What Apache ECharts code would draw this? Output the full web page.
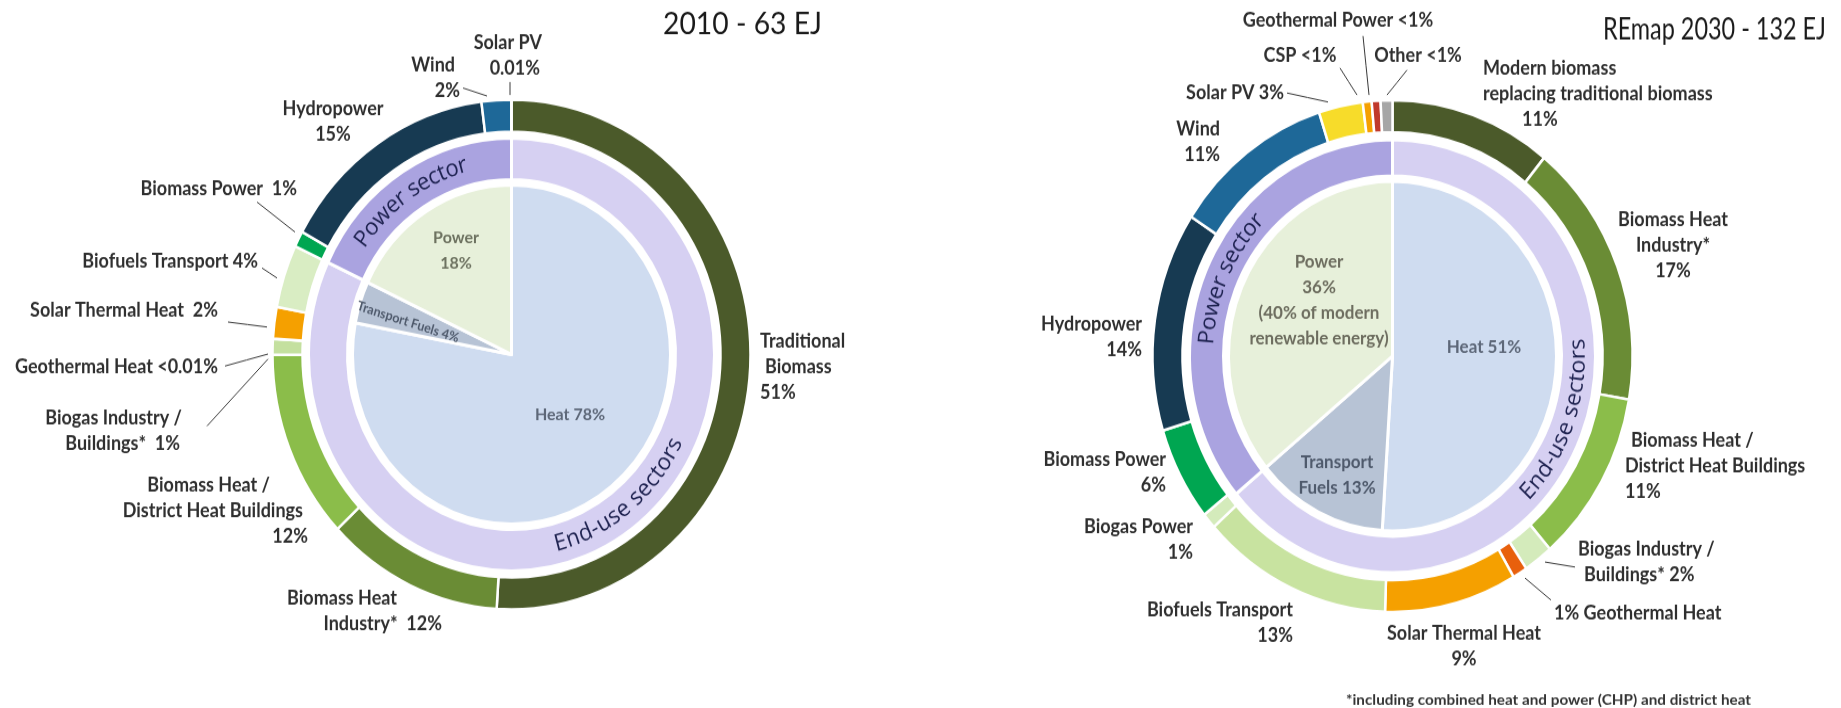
<!DOCTYPE html>
<html><head><meta charset="utf-8">
<script src="https://cdn.jsdelivr.net/npm/echarts@6/dist/echarts.min.js"></script>
<style>
html,body{margin:0;padding:0;background:#fff;overflow:hidden;}
#wrap{width:1841px;height:708px;overflow:hidden;}
#chart{width:1841px;height:664px;transform:scaleY(1.066265);transform-origin:0 0;}
</style></head><body><div id="wrap"><div id="chart"></div></div>
<script>
// ---------------- DATA ----------------
// 2010 - outer ring (clockwise from 12 o'clock)
const leftOuterLabels = [
  'Traditional\nBiomass\n51%',
  'Biomass Heat\nIndustry*  12%',
  'Biomass Heat /\nDistrict Heat Buildings\n12%',
  'Biogas Industry /\nBuildings*  1%',
  'Geothermal Heat <0.01%',
  'Solar Thermal Heat  2%',
  'Biofuels Transport 4%',
  'Biomass Power  1%',
  'Hydropower\n15%',
  'Wind\n2%',
  'Solar PV\n0.01%'
];
const leftOuterValues = [51, 12, 12, 1, 0.01, 2, 4, 1, 15, 2, 0.01];
const leftMiddleNames = ['End-use sectors', 'Power sector'];
const leftMiddleValues = [82, 18];
const leftInnerLabels = ['Heat 78%', 'Transport Fuels 4%', 'Power\n18%'];
const leftInnerValues = [78, 4, 18];

// REmap 2030 - outer ring (clockwise from 12 o'clock)
const rightOuterLabels = [
  'Modern biomass\nreplacing traditional biomass\n11%',
  'Biomass Heat\nIndustry*\n17%',
  'Biomass Heat /\nDistrict Heat Buildings\n11%',
  'Biogas Industry /\nBuildings* 2%',
  '1% Geothermal Heat',
  'Solar Thermal Heat\n9%',
  'Biofuels Transport\n13%',
  'Biogas Power\n1%',
  'Biomass Power\n6%',
  'Hydropower\n14%',
  'Wind\n11%',
  'Solar PV 3%',
  'CSP <1%',
  'Geothermal Power <1%',
  'Other <1%'
];
const rightOuterValues = [11, 17, 11, 2, 1, 9, 13, 1, 6, 14, 11, 3, 0.6, 0.6, 0.8];
const rightMiddleNames = ['End-use sectors', 'Power sector'];
const rightMiddleValues = [64, 36];
const rightInnerLabels = ['Heat 51%', 'Transport\nFuels 13%', 'Power\n36%\n(40% of modern\nrenewable energy)'];
const rightInnerValues = [51, 13, 36];

const titles = ['2010 - 63 EJ', 'REmap 2030 - 132 EJ'];
const footnote = '*including combined heat and power (CHP) and district heat';

// ---------------- STYLE / LAYOUT ----------------
const SY = 708 / 664;
const Y = v => v / SY;
const FONT = 'Lato, "Open Sans", sans-serif';

const leftOuterColors = ['#4b5a2a','#6a8c35','#8bbd4a','#c4e09f','#f2a7a7','#f5a000','#d9edc3','#00a651','#173a52','#1e6898','#f5d922'];
const rightOuterColors = ['#4b5a2a','#6a8c35','#8bbd4a','#d4ebbb','#e8600c','#f5a000','#c8e3a0','#d4ebbb','#00a651','#173a52','#1e6898','#f7dc2a','#f5a000','#c0392b','#a6a6a6'];
const middleColors = ['#d6d0f2', '#aaa3e0'];
const innerColors = ['#cfdcf0', '#b7c3d5', '#e7f0da'];

const leftOuterLayout = [
  {x:760, y:367, align:'left', pads:[0,5,0]},
  {x:442, y:611, align:'right', pads:[45,0]},
  {x:308, y:510.5, align:'right', pads:[38,5,0]},
  {x:182, y:431, align:'right', pads:[0,2], line:[[207,426],[268,359]]},
  {x:218, y:367, align:'right', line:[[225,366],[268,354]]},
  {x:218, y:310, align:'right', line:[[228,322],[267,327]]},
  {x:258, y:261, align:'right', line:[[262,268],[277,278]]},
  {x:297, y:189, align:'right', line:[[257,202],[295,232]]},
  {x:333, y:122, align:'center'},
  {x:460, y:78, align:'right', pads:[5,0], line:[[463,88],[487,96]]},
  {x:542, y:56, align:'right', pads:[0,2], line:[[510,82],[510,95]]}
];
const rightOuterLayout = [
  {x:1483, y:94.5, align:'left', pads:[0,0,39]},
  {x:1673, y:245, align:'center'},
  {x:1625, y:466, align:'left', pads:[6,0,0]},
  {x:1578, y:562.5, align:'left', pads:[0,6], line:[[1545,562],[1575,567]]},
  {x:1554, y:613, align:'left', line:[[1525,578],[1551,600]]},
  {x:1464, y:646.5, align:'center'},
  {x:1293, y:623, align:'right'},
  {x:1193, y:539.5, align:'right'},
  {x:1166, y:473, align:'right'},
  {x:1142, y:337.5, align:'right'},
  {x:1220, y:141.5, align:'right'},
  {x:1284, y:93, align:'right', line:[[1287,93],[1328,102]]},
  {x:1300, y:56, align:'center', line:[[1340,68],[1357,95]]},
  {x:1338, y:20, align:'center', line:[[1363,36],[1369,95]]},
  {x:1418, y:56, align:'center', line:[[1407,70],[1387,95]]}
];
const leftInnerLayout = [
  {x:570, y:415, align:'center', color:'#5d6778', size:16},
  {x:408, y:322, align:'center', color:'#4f5a6c', size:12.5, rotate:-17},
  {x:456, y:250, align:'center', color:'#6d7260', size:16}
];
const rightInnerLayout = [
  {x:1484, y:347, align:'center', color:'#5d6778', size:17},
  {x:1337, y:475, align:'center', color:'#4f5a6c', size:17},
  {x:1319, y:300.5, align:'center', color:'#6d6d5f', size:17}
];

const LEFT = {center:[511.5, Y(354.5)], outer:[209,239], middle:[164,203], inner:[0,159]};
const RIGHT = {center:[1392.5, Y(356)], outer:[210,240], middle:[169,203], inner:[0,164]};

function buildRich(texts, layout, def) {
  const rich = {};
  const built = texts.map((t, i) => {
    const c = layout[i];
    const pads = c.pads || [];
    return t.split('\n').map((ln, j) => {
      const p = pads[j] || 0;
      const key = 'l' + i + '_' + j;
      rich[key] = {
        fontFamily: FONT, fontSize: c.size || def.size, fontWeight: def.weight,
        color: c.color || def.color, lineHeight: def.lineHeight, align: c.align,
        padding: c.align === 'right' ? [0, p, 0, 0] : (c.align === 'left' ? [0, 0, 0, p] : [0, 0, 0, 0])
      };
      return '{' + key + '|' + ln + '}';
    }).join('\n');
  });
  return {rich, built};
}

function layoutFn(layout) {
  return function (params) {
    const c = layout[params.dataIndex];
    if (!c) return;
    const o = {x: c.x, y: Y(c.y), align: c.align, verticalAlign: 'middle'};
    if (c.rotate) o.rotate = c.rotate;
    if (c.line) {
      const a = [c.line[0][0], Y(c.line[0][1])], b = [c.line[1][0], Y(c.line[1][1])];
      o.labelLinePoints = [b, [(a[0] + b[0]) / 2, (a[1] + b[1]) / 2], a];
    }
    return o;
  };
}

function labeledPie(geo, radius, values, texts, colors, layout, def, border, pos) {
  const r = buildRich(texts, layout, def);
  return {
    type: 'pie', center: geo.center, radius: radius, startAngle: 90, clockwise: true,
    avoidLabelOverlap: false, silent: true, animation: false,
    itemStyle: {borderColor: '#fff', borderWidth: border},
    label: {show: true, position: pos, formatter: p => r.built[p.dataIndex], rich: r.rich},
    labelLine: {show: false, length: 0, length2: 0, lineStyle: {color: '#3a3a3a', width: 1}},
    labelLayout: layoutFn(layout),
    data: values.map((v, i) => ({
      value: v, name: texts[i],
      itemStyle: {color: colors[i]},
      labelLine: {show: !!layout[i].line}
    }))
  };
}

function ringPie(geo, radius, values, names, colors, border) {
  return {
    type: 'pie', center: geo.center, radius: radius, startAngle: 90, clockwise: true,
    silent: true, animation: false, label: {show: false}, labelLine: {show: false},
    itemStyle: {borderColor: '#fff', borderWidth: border},
    data: values.map((v, i) => ({value: v, name: names[i], itemStyle: {color: colors[i]}}))
  };
}

// curved text along a ring
const measureCtx = document.createElement('canvas').getContext('2d');
const ARC_FONT = '"Open Sans", Lato, sans-serif';
function arcText(text, geo, r, midDeg, dir, size, color) {
  measureCtx.font = size + 'px ' + ARC_FONT;
  const chars = Array.from(text);
  const total = measureCtx.measureText(text).width;
  let a = midDeg * Math.PI / 180 - dir * (total / r) / 2;
  const cx = geo.center[0], cy = geo.center[1];
  const els = [];
  chars.forEach(ch => {
    const w = measureCtx.measureText(ch).width;
    const ac = a + dir * (w / 2) / r;
    els.push({
      type: 'text', silent: true, z: 100, zlevel: 0,
      x: cx + r * Math.sin(ac), y: cy - r * Math.cos(ac),
      rotation: dir === 1 ? -ac : -(ac + Math.PI),
      style: {text: ch, fontSize: size, fontFamily: ARC_FONT, fill: color, align: 'center', verticalAlign: 'middle'}
    });
    a += dir * w / r;
  });
  return els;
}

function fitText(text, x, y, size, targetWidth, color, weight) {
  measureCtx.font = (weight || 'normal') + ' ' + size + 'px ' + FONT;
  const w = measureCtx.measureText(text).width;
  return {type: 'text', silent: true, z: 100, x: x, y: y, scaleX: targetWidth / w,
    style: {text: text, fontSize: size, fontFamily: FONT, fontWeight: weight || 'normal', fill: color, align: 'center', verticalAlign: 'middle'}};
}

const outerDef = {size: 18, weight: 'bold', color: '#2f2f2f', lineHeight: 24};
const innerDef = {size: 16, weight: 'bold', color: '#5d6778', lineHeight: 24};

const chart = echarts.init(document.getElementById('chart'), null, {renderer: 'canvas', width: 1841, height: 664});
const midL = (LEFT.middle[0] + LEFT.middle[1]) / 2;
const midR = (RIGHT.middle[0] + RIGHT.middle[1]) / 2;
chart.setOption({
  backgroundColor: '#ffffff',
  animation: false,
  series: [
    labeledPie(LEFT, LEFT.outer, leftOuterValues, leftOuterLabels, leftOuterColors, leftOuterLayout, outerDef, 2.5, 'outside'),
    ringPie(LEFT, LEFT.middle, leftMiddleValues, leftMiddleNames, middleColors, 3),
    labeledPie(LEFT, LEFT.inner, leftInnerValues, leftInnerLabels, innerColors, leftInnerLayout, innerDef, 3, 'inside'),
    labeledPie(RIGHT, RIGHT.outer, rightOuterValues, rightOuterLabels, rightOuterColors, rightOuterLayout, outerDef, 2.5, 'outside'),
    ringPie(RIGHT, RIGHT.middle, rightMiddleValues, rightMiddleNames, middleColors, 3),
    labeledPie(RIGHT, RIGHT.inner, rightInnerValues, rightInnerLabels, innerColors, rightInnerLayout, innerDef, 3, 'inside')
  ],
  graphic: {elements: [
    fitText(titles[0], 742.5, Y(24), 29, 159, '#1a1a1a'),
    fitText(titles[1], 1714.5, Y(29), 29, 223, '#1a1a1a'),
    fitText(footnote, 1548.5, Y(700), 14, 405, '#333333', 'bold')
  ]
    .concat(arcText(leftMiddleNames[1], LEFT, midL, 325, 1, 22, '#1e2250'))
    .concat(arcText(leftMiddleNames[0], LEFT, midL, 141, -1, 22, '#1e2250'))
    .concat(arcText(rightMiddleNames[1], RIGHT, midR, 294, 1, 22, '#1e2250'))
    .concat(arcText(rightMiddleNames[0], RIGHT, midR, 110, -1, 22, '#1e2250'))}
});
</script>
</body></html>
